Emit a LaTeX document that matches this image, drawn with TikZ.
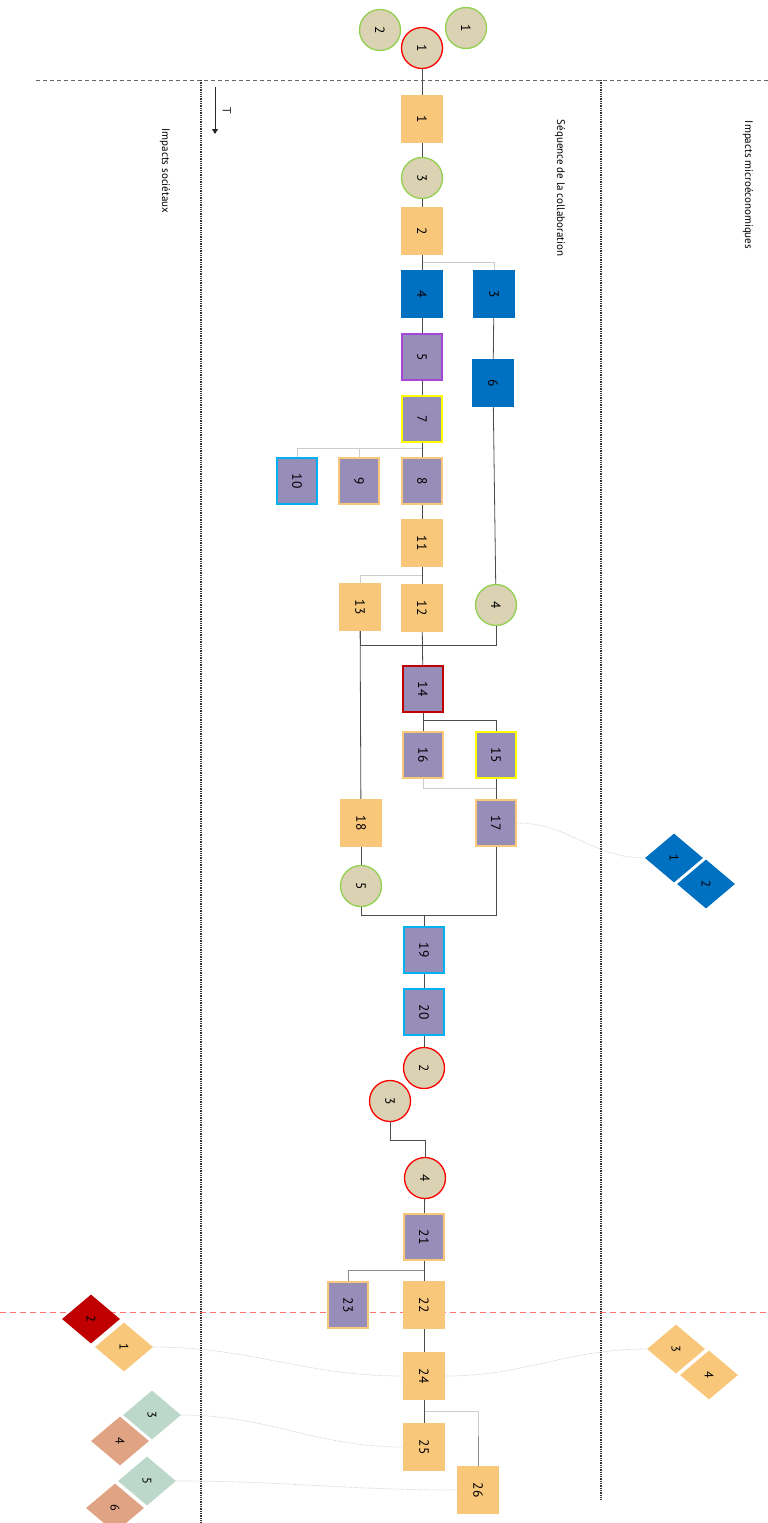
\documentclass[tikz,border=0pt]{standalone}
\usepackage{fontspec}
\setmainfont{PT Sans}
\usepackage{tikz}
\usetikzlibrary{arrows.meta,shapes.geometric}
\newcommand{\rt}[1]{\rotatebox{-90}{#1}}

\definecolor{boxorange}{HTML}{F8C77A}
\definecolor{boxpurple}{HTML}{978DB9}
\definecolor{boxblue}{HTML}{0070C0}
\definecolor{circtan}{HTML}{DAD2B3}
\definecolor{ringgreen}{HTML}{92D050}
\definecolor{ringred}{HTML}{FF0000}
\definecolor{darkred}{HTML}{C00000}
\definecolor{sage}{HTML}{BCD8CA}
\definecolor{salmon}{HTML}{E0A384}
\definecolor{cyanedge}{HTML}{00B0F0}
\definecolor{violetedge}{HTML}{A447D6}
\definecolor{yellowedge}{HTML}{FFFF00}

\begin{document}
\begin{tikzpicture}[
  x=1pt, y=-1pt,
  font=\fontsize{13.5}{13.5}\selectfont,
  box/.style={minimum width=42pt, minimum height=48pt, inner sep=0pt},
  ob/.style={box, fill=boxorange},
  bb/.style={box, fill=boxblue},
  pb/.style={box, fill=boxpurple, draw=#1, line width=1.6pt,
             minimum width=40pt, minimum height=46pt},
  circ/.style={circle, minimum size=41pt, inner sep=0pt, fill=circtan,
               draw=#1, line width=1.3pt},
  dia/.style={diamond, minimum width=58pt, minimum height=49pt, inner sep=0pt,
              fill=#1, font=\fontsize{12.5}{12.5}\selectfont},
  lbl/.style={rotate=-90, font=\fontsize{11}{11}\selectfont},
  ln/.style={draw=black!70, line width=0.8pt},
  lt/.style={draw=black!20, line width=0.8pt},
  cv/.style={draw=black!22, densely dotted, line width=0.7pt}]

\useasboundingbox (0,0) rectangle (768,1523);

% frame of the three bands
\draw[black!60, line width=0.8pt, dash pattern=on 4pt off 3pt] (36,80) -- (768,80);
\draw[black!80, line width=1.3pt, densely dotted] (201,80) -- (201,1523);
\draw[black!80, line width=1.3pt, densely dotted] (601,80) -- (601,1500);
\draw[red!55, line width=0.8pt, dash pattern=on 6pt off 4pt] (0,1312) -- (768,1312);

\node[lbl] (soc) at (165,171) {Impacts sociétaux};
\node[lbl] (seq) at (560,188) {Séquence de la collaboration};
\node[lbl] (mic) at (748,185) {Impacts microéconomiques};
\draw[-{Triangle[length=5pt,width=6pt]}, black!85, line width=0.8pt] (215,87) -- (215,134)
  node[midway, right=4pt, font=\fontsize{12}{12}\selectfont] (tps) {\rt{T}};

% start
\node[circ=ringgreen] (g2) at (380,30) {\rt{2}};
\node[circ=ringred] (r1) at (422,48) {\rt{1}};
\node[circ=ringgreen] (g1) at (466,28) {\rt{1}};

% main sequence
\node[ob] (b1) at (422,119) {\rt{1}};
\node[circ=ringgreen] (g3) at (422,178) {\rt{3}};
\node[ob] (b2) at (422,231) {\rt{2}};
\node[bb] (b4) at (422,294) {\rt{4}};
\node[bb] (b3) at (494,294) {\rt{3}};
\node[pb=violetedge] (b5) at (422,357) {\rt{5}};
\node[bb] (b6) at (493,383) {\rt{6}};
\node[pb=yellowedge] (b7) at (422,419) {\rt{7}};
\node[pb=boxorange] (b8) at (422,481) {\rt{8}};
\node[pb=boxorange] (b9) at (359,481) {\rt{9}};
\node[pb=cyanedge] (b10) at (297,481) {\rt{10}};
\node[ob] (b11) at (422,543) {\rt{11}};
\node[ob] (b12) at (422,608) {\rt{12}};
\node[ob] (b13) at (360,607) {\rt{13}};
\node[circ=ringgreen] (g4) at (496,605) {\rt{4}};
\node[pb=darkred] (b14) at (423,689) {\rt{14}};
\node[pb=boxorange] (b16) at (423,755) {\rt{16}};
\node[pb=yellowedge] (b15) at (496,755) {\rt{15}};
\node[pb=boxorange] (b17) at (496,823) {\rt{17}};
\node[ob] (b18) at (361,823) {\rt{18}};
\node[circ=ringgreen] (g5) at (361,886) {\rt{5}};
\node[pb=cyanedge] (b19) at (424,950) {\rt{19}};
\node[pb=cyanedge] (b20) at (424,1012) {\rt{20}};
\node[circ=ringred] (r2) at (424,1068) {\rt{2}};
\node[circ=ringred] (r3) at (390,1101) {\rt{3}};
\node[circ=ringred] (r4) at (425,1178) {\rt{4}};
\node[pb=boxorange] (b21) at (424,1237) {\rt{21}};
\node[ob] (b22) at (424,1305) {\rt{22}};
\node[pb=boxorange] (b23) at (348,1305) {\rt{23}};
\node[ob] (b24) at (424,1376) {\rt{24}};
\node[ob] (b25) at (424,1447) {\rt{25}};
\node[ob] (b26) at (478,1490) {\rt{26}};

% impacts
\node[dia=boxblue] (m1) at (674,858) {\rt{1}};
\node[dia=boxblue] (m2) at (706,884) {\rt{2}};
\node[dia=boxorange] (m3) at (676,1349) {\rt{3}};
\node[dia=boxorange] (m4) at (709,1375) {\rt{4}};
\node[dia=darkred] (s2) at (91,1319) {\rt{2}};
\node[dia=boxorange] (s1) at (124,1347) {\rt{1}};
\node[dia=sage] (s3) at (152,1415) {\rt{3}};
\node[dia=salmon] (s4) at (120,1441) {\rt{4}};
\node[dia=sage] (s5) at (147,1481) {\rt{5}};
\node[dia=salmon] (s6) at (115,1508) {\rt{6}};

% light branches
\draw[lt] (b2.south) ++(0,7) -| (b3.north);
\draw[lt] (b7.south) ++(0,6) -| (b9.north);
\draw[lt] (b7.south) ++(0,6) -| (b10.north);
\draw[lt] (b11.south) ++(0,8) -| (b13.north);
\draw[lt] (b16.south) -- ++(0,10) -| (b17.north);
\draw[lt] (b24.south) ++(0,11) -| (b26.north);

% links
\draw[ln] (r1) -- (b1);
\draw[ln] (b1) -- (g3);
\draw[ln] (g3) -- (b2);
\draw[ln] (b2) -- (b4);
\draw[ln] (b4) -- (b5);
\draw[ln] (b5) -- (b7);
\draw[ln] (b7) -- (b8);
\draw[ln] (b8) -- (b11);
\draw[ln] (b11) -- (b12);
\draw[ln] (b3) -- (b6);
\draw[ln] (b6) -- (g4);
\draw[ln] (b12) -- (b14);
\draw[ln] (b13) -- (b18);
\draw[ln] (g4.south) -- ++(0,19) -| (b13.south);
\draw[ln] (b14) -- (b16);
\draw[ln] (b14.south) ++(0,8) -| (b15.north);
\draw[ln] (b15) -- (b17);
\draw[ln] (b18) -- (g5);
\draw[ln] (b17.south) -- ++(0,69) -| (g5.south);
\draw[ln] (b19.north) -- ++(0,-10);
\draw[ln] (b19) -- (b20);
\draw[ln] (b20) -- (r2);
\draw[ln] (r3.south) -- ++(0,18) -| (r4.north);
\draw[ln] (r4) -- (b21);
\draw[ln] (b21) -- (b22);
\draw[ln, black!45] (b21.south) ++(0,10) -| (b23.north);
\draw[ln] (b22) -- (b24);
\draw[ln] (b24) -- (b25);
\draw[ln, black!45] (b26.north) -- ++(0,-30);

% impact links
\draw[cv] (b17.east) to[out=0, in=180] (m1.west);
\draw[cv] (s1.east) to[out=0, in=180] (b24.west);
\draw[cv] (b24.east) to[out=0, in=180] (m3.west);
\draw[cv] (s3.east) to[out=0, in=180] (b25.west);
\draw[cv] (s5.east) to[out=0, in=180] (b26.west);
\end{tikzpicture}
\end{document}
